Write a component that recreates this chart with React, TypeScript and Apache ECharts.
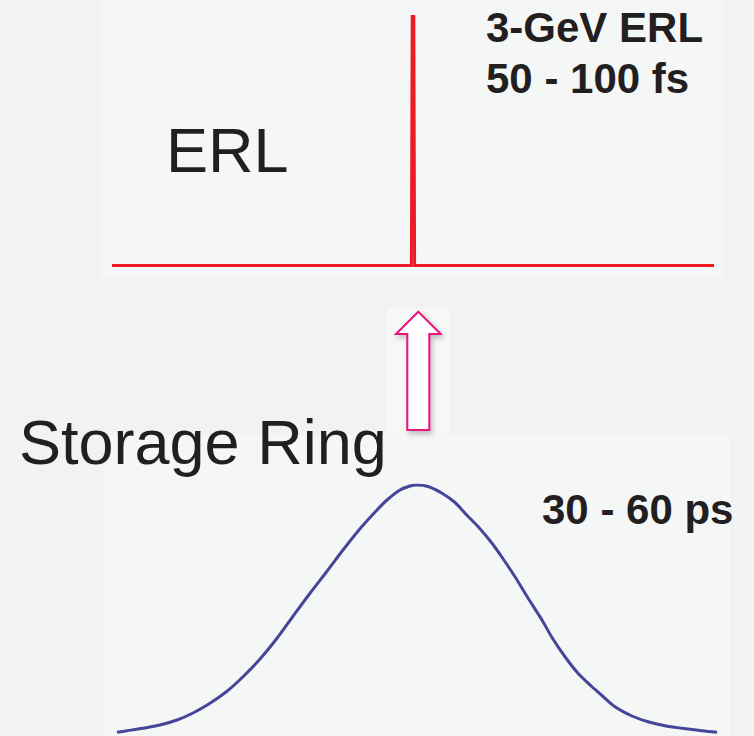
import React, { useEffect, useRef } from "react";
import * as echarts from "echarts";

// ERL pulse (top panel): time offset (arb.) vs normalised intensity
const erlX = [-301, -1.6, -0.8, 0.8, 1.6, 301];
const erlY = [0, 0, 1, 1, 0, 0];

// Storage ring pulse (bottom panel): time offset (arb.) vs normalised intensity
const ringX = [
  -300, -290, -274, -257, -240, -224, -207, -190, -174, -157, -140, -124,
  -107, -90, -74, -57, -40, -30, -17, -7, 0,
  11, 25, 38, 48, 61, 75, 85, 98, 111, 125, 135, 148, 161, 175, 185, 198,
  215, 231, 248, 265, 285, 300,
];
const ringY = [
  0.011, 0.017, 0.027, 0.04, 0.06, 0.088, 0.127, 0.175, 0.233, 0.304, 0.387,
  0.475, 0.567, 0.655, 0.74, 0.825, 0.9, 0.94, 0.98, 0.996, 1.0,
  0.994, 0.967, 0.93, 0.887, 0.834, 0.767, 0.711, 0.633, 0.548, 0.46, 0.39,
  0.313, 0.247, 0.193, 0.158, 0.113, 0.076, 0.053, 0.037, 0.027, 0.017, 0.011,
];

const labels = {
  erl: "ERL",
  erlTitle: "3-GeV ERL",
  erlWidth: "50 - 100 fs",
  ring: "Storage Ring",
  ringWidth: "30 - 60 ps",
};

const FONT = '"Liberation Sans", Arial, Helvetica, sans-serif';
const TEXT_COLOR = "#231f20";

export default function App() {
  const ref = useRef<HTMLDivElement>(null);

  useEffect(() => {
    if (!ref.current) return;
    const chart = echarts.init(ref.current, undefined, { renderer: "svg" });

    const textEl = (
      text: string,
      x: number,
      y: number,
      size: number,
      weight: string
    ) => ({
      type: "text",
      z: 20,
      silent: true,
      style: {
        text,
        x,
        y,
        fill: TEXT_COLOR,
        fontSize: size,
        fontWeight: weight,
        fontFamily: FONT,
        align: "left",
        verticalAlign: "middle",
      },
    });

    chart.setOption({
      animation: false,
      backgroundColor: "#f1f3f3",
      grid: [
        { left: 112, top: 16.5, width: 602, height: 249 },
        { left: 117, top: 485, width: 600, height: 250 },
      ],
      xAxis: [
        { type: "value", gridIndex: 0, min: -301, max: 301, show: false },
        { type: "value", gridIndex: 1, min: -300, max: 300, show: false },
      ],
      yAxis: [
        { type: "value", gridIndex: 0, min: 0, max: 1, show: false },
        { type: "value", gridIndex: 1, min: 0, max: 1, show: false },
      ],
      graphic: [
        {
          type: "rect",
          z: -10,
          silent: true,
          shape: { x: 100, y: 0, width: 623, height: 277 },
          style: { fill: "#f5f7f7" },
        },
        {
          type: "rect",
          z: -10,
          silent: true,
          shape: { x: 387, y: 308, width: 63, height: 127 },
          style: { fill: "#f6f8f8" },
        },
        {
          type: "rect",
          z: -10,
          silent: true,
          shape: { x: 105, y: 435, width: 625, height: 301 },
          style: { fill: "#f5f7f7" },
        },
        {
          type: "polygon",
          z: 10,
          silent: true,
          shape: {
            points: [
              [418.3, 311.7],
              [440.7, 334],
              [429.3, 334],
              [429.3, 430],
              [407.3, 430],
              [407.3, 334],
              [396, 334],
            ],
          },
          style: {
            fill: "#ffffff",
            stroke: "#e8127c",
            lineWidth: 2,
            lineJoin: "miter",
            shadowBlur: 5,
            shadowOffsetX: 2,
            shadowOffsetY: 3,
            shadowColor: "rgba(0,0,0,0.25)",
          },
        },
        textEl(labels.erl, 166, 150, 63, "normal"),
        textEl(labels.erlTitle, 486, 27, 42, "bold"),
        textEl(labels.erlWidth, 486, 78, 42, "bold"),
        textEl(labels.ring, 19, 442, 63, "normal"),
        textEl(labels.ringWidth, 542, 509, 42, "bold"),
      ],
      series: [
        {
          type: "line",
          xAxisIndex: 0,
          yAxisIndex: 0,
          data: erlX.map((x, i) => [x, erlY[i]]),
          showSymbol: false,
          silent: true,
          lineStyle: { color: "#ed1c24", width: 3, join: "miter" },
        },
        {
          type: "line",
          xAxisIndex: 1,
          yAxisIndex: 1,
          data: ringX.map((x, i) => [x, ringY[i]]),
          showSymbol: false,
          silent: true,
          smooth: 0.3,
          lineStyle: { color: "#45459a", width: 3 },
        },
      ],
    });

    return () => chart.dispose();
  }, []);

  return (
    <div
      ref={ref}
      style={{ position: "absolute", left: 0, top: 0, width: 754, height: 736 }}
    />
  );
}
